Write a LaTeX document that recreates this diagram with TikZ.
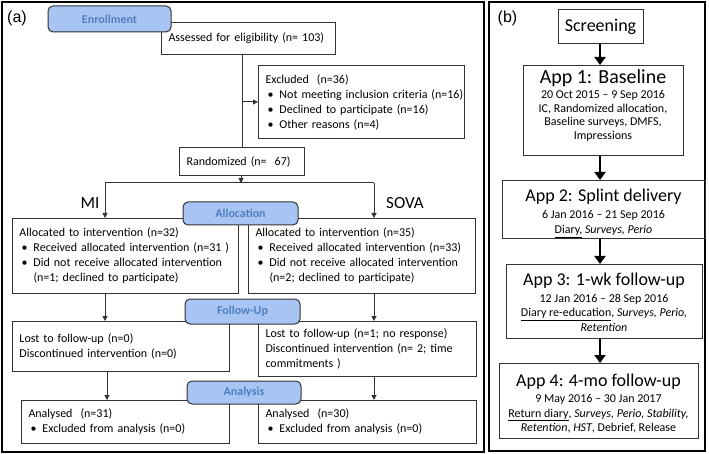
\documentclass[tikz,border=0pt]{standalone}
\usepackage{fontspec}
\setmainfont{Carlito}
\newfontfamily\arialf{Liberation Sans}
\usetikzlibrary{arrows.meta}
\definecolor{lg}{HTML}{333333}
\definecolor{labfill}{HTML}{A7C4F2}
\definecolor{labtext}{HTML}{4F7FC0}
\newcommand{\bitem}[1]{\mbox{\hspace*{2pt}\makebox[12pt][l]{\textbullet}#1}}
\newcommand{\contind}{\hspace*{14pt}}
\begin{document}
\begin{tikzpicture}[x=1pt,y=-1pt,
  box/.style={draw=lg, line width=1pt, inner xsep=7pt, inner ysep=0pt, anchor=north west, align=left, font=\fontsize{12}{15}\selectfont},
  ebox/.style={draw=lg, line width=1pt, inner sep=0pt, anchor=north west},
  lab/.style={draw=lg, line width=1pt, fill=labfill, rounded corners=5pt, inner sep=0pt, text=labtext, font=\bfseries\fontsize{12}{14}\selectfont},
  frame/.style={draw=black, line width=1.8pt},
  conn/.style={draw=lg, line width=1pt},
  arr/.style={conn, -{Triangle[length=5pt,width=5pt]}},
  bigarr/.style={draw=black, line width=2.6pt, -{Triangle[length=8pt,width=11pt]}},
  big/.style={font=\fontsize{17}{17}\selectfont},
  tag/.style={font=\arialf\fontsize{16}{16}\selectfont},
  ttl/.style={anchor=base, inner sep=0pt, font=\fontsize{18}{18}\selectfont},
  ttlb/.style={anchor=base, inner sep=0pt, font=\fontsize{20}{20}\selectfont},
  bdy/.style={anchor=base, inner sep=0pt, font=\fontsize{12}{12}\selectfont}
]
\useasboundingbox (0,0) rectangle (709,454);
\fill[white] (0,0) rectangle (709,454);
% frames
\draw[frame] (2,2) rectangle (484,452);
\draw[frame] (489,2) rectangle (705,451);
\node[tag] (ta) at (17,18) {(a)};
\node[tag] (tb) at (507.5,18) {(b)};

% ---------- panel (a) ----------
\node[box, minimum width=174pt, minimum height=32pt, text width=160pt] (ass) at (161,22) {Assessed for eligibility (n= 103)};
\node[box, minimum width=206pt, minimum height=73pt, text width=192pt] (excl) at (258,65)
  {Excluded~ (n=36)\\ \bitem{Not meeting inclusion criteria (n=16)}\\ \bitem{Declined to participate (n=16)}\\ \bitem{Other reasons (n=4)}};
\node[box, minimum width=125pt, minimum height=28pt, text width=111pt] (rand) at (179,147) {Randomized (n=~ 67)};

\node[box, minimum width=226pt, minimum height=75pt, text width=212pt] (amI) at (12,218)
  {Allocated to intervention (n=32)\\ \bitem{Received allocated intervention (n=31 )}\\ \bitem{Did not receive allocated intervention}\\ \contind(n=1; declined to participate)};
\node[box, minimum width=227pt, minimum height=75pt, text width=213pt] (amS) at (248,218)
  {Allocated to intervention (n=35)\\ \bitem{Received allocated intervention (n=33)}\\ \bitem{Did not receive allocated intervention}\\ \contind(n=2; declined to participate)};

\node[box, minimum width=217pt, minimum height=50pt, text width=203pt] (lmI) at (12,321)
  {Lost to follow-up (n=0)\\ Discontinued intervention (n=0)};
\node[box, minimum width=218pt, minimum height=55pt, text width=204pt] (lmS) at (258,321)
  {Lost to follow-up (n=1; no response)\\ Discontinued intervention (n= 2; time\\ commitments )};

\node[box, minimum width=208pt, minimum height=43pt, text width=194pt] (anI) at (21,400)
  {Analysed~ (n=31)\\ \bitem{Excluded from analysis (n=0)}};
\node[box, minimum width=218pt, minimum height=43pt, text width=204pt] (anS) at (258,400)
  {Analysed~ (n=30)\\ \bitem{Excluded from analysis (n=0)}};

\node[big] (mi) at (90,203) {MI};
\node[big] (sova) at (405,203) {SOVA};

% connectors (a)
\coordinate (sl) at (105,183);
\coordinate (sr) at (374,183);
\coordinate (sm) at (241,183);
\coordinate (al) at (107,0);
\draw[conn] (rand.north |- ass.south) -- (rand.north);
\draw[arr] (excl.west -| rand.north) -- (excl.west);
\draw[arr] (rand.south -| sm) -- (sm);
\draw[conn] (sl) -- (sr);
\draw[arr] (sl) -- (sl |- amI.north);
\draw[arr] (sr) -- (sr |- amS.north);
\draw[arr] (sl |- amI.south) -- (sl |- lmI.north);
\draw[arr] (sr |- amS.south) -- (sr |- lmS.north);
\draw[arr] (al |- lmI.south) -- (al |- anI.north);
\draw[arr] (sr |- lmS.south) -- (sr |- anS.north);

% phase labels
\node[lab, minimum width=123pt, minimum height=26pt] (enr) at (109.5,19) {Enrollment};
\node[lab, minimum width=115pt, minimum height=23pt] (allo) at (240.5,213.5) {Allocation};
\node[lab, minimum width=115pt, minimum height=25pt] (fup) at (242.5,311.5) {Follow-Up};
\node[lab, minimum width=114pt, minimum height=23pt] (ana) at (244,392.5) {Analysis};

% ---------- panel (b) ----------
\node[ebox, minimum width=85pt, minimum height=34pt] (scr) at (558,9) {};
\node[ebox, minimum width=160pt, minimum height=90pt] (a1) at (523,65) {};
\node[ebox, minimum width=203pt, minimum height=58pt] (a2) at (502,180) {};
\node[ebox, minimum width=196pt, minimum height=74pt] (a3) at (506,264) {};
\node[ebox, minimum width=199pt, minimum height=75pt] (a4) at (499,363) {};

\node[ttl] (scrt) at (600.5,32) {Screening};

\node[ttlb] (a1t) at (603,84) {App 1: Baseline};
\node[bdy] (a1l1) at (603,99) {20 Oct 2015 – 9 Sep 2016};
\node[bdy] (a1l2) at (603,112.5) {IC, Randomized allocation,};
\node[bdy] (a1l3) at (603,126) {Baseline surveys, DMFS,};
\node[bdy] (a1l4) at (603,139.5) {Impressions};

\node[ttl] (a2t) at (603.5,202) {App 2: Splint delivery};
\node[bdy] (a2l1) at (603.5,218.5) {6 Jan 2016 – 21 Sep 2016};
\node[bdy] (a2l2) at (603.5,233.5) {\underline{Diary,} \textit{Surveys, Perio}};

\node[ttl] (a3t) at (604,286) {App 3: 1-wk follow-up};
\node[bdy] (a3l1) at (604,302) {12 Jan 2016 – 28 Sep 2016};
\node[bdy] (a3l2) at (604,316.5) {\underline{Diary re-education}, \textit{Surveys, Perio,}};
\node[bdy] (a3l3) at (604,331) {\textit{Retention}};

\node[ttl] (a4t) at (598.5,386) {App 4: 4-mo follow-up};
\node[bdy] (a4l1) at (598.5,402) {9 May 2016 – 30 Jan 2017};
\node[bdy] (a4l2) at (598.5,417) {\underline{Return diary}, \textit{Surveys, Perio, Stability,}};
\node[bdy] (a4l3) at (598.5,431) {\textit{Retention}, \textit{HST}, Debrief, Release};

\draw[bigarr] (scr.south -| 600,0) -- (a1.north -| 600,0);
\draw[bigarr] (a1.south -| 600,0) -- (a2.north -| 600,0);
\draw[bigarr] (a2.south -| 600,0) -- (a3.north -| 600,0);
\draw[bigarr] (a3.south -| 600,0) -- (a4.north -| 600,0);
\end{tikzpicture}
\end{document}
